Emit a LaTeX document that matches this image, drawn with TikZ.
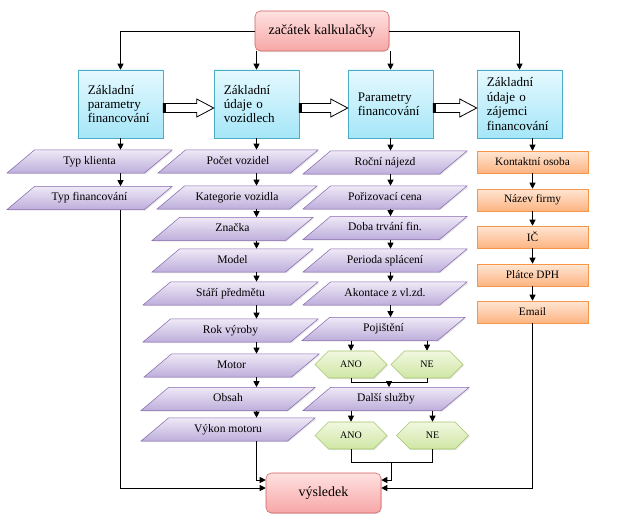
\documentclass[tikz,border=0pt]{standalone}
\usepackage{fontspec}
\setmainfont{Liberation Serif}
\usetikzlibrary{shapes.geometric,shapes.symbols,arrows.meta,calc,shadows}
\definecolor{start top}{HTML}{FFE1E1}
\definecolor{start bottom}{HTML}{F6A7A6}
\definecolor{start edge}{HTML}{D05F5C}
\definecolor{group top}{HTML}{E5F9FF}
\definecolor{group bottom}{HTML}{A5E6F8}
\definecolor{group edge}{HTML}{4BACC6}
\definecolor{item top}{HTML}{EEE9F6}
\definecolor{item bottom}{HTML}{BDAEDB}
\definecolor{item edge}{HTML}{8868B0}
\definecolor{detail top}{HTML}{FFE6D3}
\definecolor{detail bottom}{HTML}{FCB482}
\definecolor{detail edge}{HTML}{F79646}
\definecolor{choice top}{HTML}{F1F8E0}
\definecolor{choice bottom}{HTML}{CFE6A4}
\definecolor{choice edge}{HTML}{A5C46A}
\tikzset{soft/.style={drop shadow={opacity=0.2,shadow xshift=0.8pt,shadow yshift=-0.8pt}},
    terminal/.style={soft, rectangle, rounded corners=4pt, draw=start edge, top color=start top,
        bottom color=start bottom, minimum width=100.5pt, minimum height=30pt,
        font=\fontsize{10.5}{12}\selectfont},
    group/.style={soft, rectangle, draw=group edge, top color=group top, bottom color=group bottom,
        minimum width=63.75pt, minimum height=51pt, text width=49pt, inner xsep=7pt, align=left,
        font=\fontsize{9.8}{10.8}\selectfont},
    item/.style={soft, trapezium, trapezium left angle=40, trapezium right angle=140,
        trapezium stretches body, draw=item edge, top color=item top, bottom color=item bottom,
        text height=6.3pt, text depth=2pt, inner xsep=1pt, inner ysep=4.5pt,
        font=\fontsize{8.7}{10}\selectfont},
    detail/.style={soft, rectangle, draw=detail edge, top color=detail top, bottom color=detail bottom,
        minimum width=83.25pt, minimum height=16.5pt, inner sep=1pt, font=\fontsize{8.5}{10}\selectfont},
    choice/.style={soft, signal, signal to=east and west, signal pointer angle=90, draw=choice edge,
        top color=choice top, bottom color=choice bottom, minimum width=54pt, minimum height=20.25pt,
        inner sep=1pt, font=\fontsize{7.5}{9}\selectfont},
    link/.style={draw, line width=0.7pt, -{Triangle[length=4.5pt,width=4.5pt]}},
    wire/.style={draw, line width=0.7pt},
    hollow/.style={draw, fill=white, line width=0.6pt}}

\begin{document}
\begin{tikzpicture}[x=0.75pt,y=-0.75pt]
    \useasboundingbox (0,0) rectangle (620,531);
    \node[terminal] (start) at (322,31) {začátek kalkulačky};
    \node[group] (b1) at (120.5,104) {Základní\\parametry\\financování};
    \node[group] (b2) at (256.5,104) {Základní\\údaje o\\vozidlech};
    \node[group] (b3) at (390.5,104) {Parametry\\financování};
    \node[group] (b4) at (519.5,104) {Základní\\údaje o\\zájemci\\financování};
    % vehicles and client type
    \node[item, minimum width=123.75pt] (klient) at (89.5,161.5) {Typ klienta};
    \node[item, minimum width=123.75pt] (typfin) at (89.5,198) {Typ financování};
    \node[item, minimum width=120pt] (pocet) at (238,161.5) {Počet vozidel};
    \node[item, minimum width=120pt] (kategorie) at (237,197.5) {Kategorie vozidla};
    \node[item, minimum width=120.75pt] (znacka) at (232.5,229) {Značka};
    \node[item, minimum width=120.75pt] (model) at (232.5,260.5) {Model};
    \node[item, minimum width=131.25pt] (stari) at (230.5,293.5) {Stáří předmětu};
    \node[item, minimum width=131.25pt] (rok) at (230.5,330.5) {Rok výroby};
    \node[item, minimum width=131.25pt] (motor) at (231.5,365.5) {Motor};
    \node[item, minimum width=130.5pt] (obsah) at (228,399) {Obsah};
    \node[item, minimum width=130.5pt] (vykon) at (228,429.5) {Výkon motoru};
    % financing
    \node[item, minimum width=123pt] (najezd) at (385,162.5) {Roční nájezd};
    \node[item, minimum width=123pt] (cena) at (385,197.5) {Pořizovací cena};
    \node[item, minimum width=123pt] (doba) at (385,228) {Doba trvání fin.};
    \node[item, minimum width=123pt] (perioda) at (385,260.5) {Perioda splácení};
    \node[item, minimum width=123pt] (akontace) at (385,293.5) {Akontace z vl.zd.};
    \node[item, minimum width=122.25pt] (pojisteni) at (383.5,329) {Pojištění};
    \node[choice] (ano1) at (351,364.5) {ANO};
    \node[choice] (ne1) at (427,364.5) {NE};
    \node[item, minimum width=124.5pt] (sluzby) at (386,399) {Další služby};
    \node[choice] (ano2) at (351,435.5) {ANO};
    \node[choice] (ne2) at (432.5,435.5) {NE};
    % client
    \node[detail] (osoba) at (532.5,162) {Kontaktní osoba};
    \node[detail] (firma) at (532.5,200) {Název firmy};
    \node[detail] (ico) at (532.5,237) {IČ};
    \node[detail] (dph) at (532.5,275) {Plátce DPH};
    \node[detail] (email) at (532.5,312) {Email};
    \node[terminal, minimum width=86.25pt] (res) at (323.5,493) {výsledek};

    \draw[link] (start.west) -| (b1.north);
    \draw[link] (start.south -| b2.north) -- (b2.north);
    \draw[link] (start.south -| b3.north) -- (b3.north);
    \draw[link] (start.east) -| (b4.north);
    \foreach \u/\v in {b1/b2, b2/b3, b3/b4} {
        \coordinate (tail) at ($(\u.east)+(0,4)$);
        \coordinate (tip) at ($(\v.west)+(0,4)$);
        \draw[hollow] ($(tail)+(0,-4.5)$) -- ($(tip)+(-17,-4.5)$) -- ($(tip)+(-17,-9)$) -- (tip)
            -- ($(tip)+(-17,9)$) -- ($(tip)+(-17,4.5)$) -- ($(tail)+(0,4.5)$) -- cycle;
        \fill ($(tail)+(0,-4.5)$) rectangle ($(tail)+(3,4.5)$);
    }
    \foreach \u/\v in {b1/klient, klient/typfin}
        \draw[link] (\u.south -| b1.south) -- (\v.north -| b1.south);
    \foreach \u/\v in {b2/pocet, pocet/kategorie, kategorie/znacka, znacka/model, model/stari,
            stari/rok, rok/motor, motor/obsah, obsah/vykon}
        \draw[link] (\u.south -| b2.south) -- (\v.north -| b2.south);
    \foreach \u/\v in {b3/najezd, najezd/cena, cena/doba, doba/perioda, perioda/akontace,
            akontace/pojisteni}
        \draw[link] (\u.south -| b3.south) -- (\v.north -| b3.south);
    \foreach \u/\v in {b4/osoba, osoba/firma, firma/ico, ico/dph, dph/email}
        \draw[link] (\u.south -| osoba.south) -- (\v.north -| osoba.south);
    \draw[link] (pojisteni.south -| ano1.north) -- (ano1.north);
    \draw[link] (pojisteni.south -| ne1.north) -- (ne1.north);
    \draw[wire] (ano1.south) -- ++(0,4) -| (ne1.south);
    \coordinate (join1) at ($(ano1.south)!0.5!(ne1.south)+(0,4)$);
    \draw[link] (join1) -- (join1 |- sluzby.north);
    \draw[link] (sluzby.south -| ano2.north) -- (ano2.north);
    \draw[link] (sluzby.south -| ne2.north) -- (ne2.north);
    \draw[wire] (ano2.south) -- ++(0,13) -| (ne2.south);
    \coordinate (join2) at ($(ano2.south)!0.5!(ne2.south)+(0,13)$);
    \draw[link] (join2) |- ([yshift=9.75pt]res.east);
    \draw[link] (email.south) |- ([yshift=3.75pt]res.east);
    \draw[link] (vykon.south -| b2.south) |- ([yshift=9.75pt]res.west);
    \draw[link] (typfin.south -| b1.south) |- ([yshift=3.75pt]res.west);
\end{tikzpicture}
\end{document}
